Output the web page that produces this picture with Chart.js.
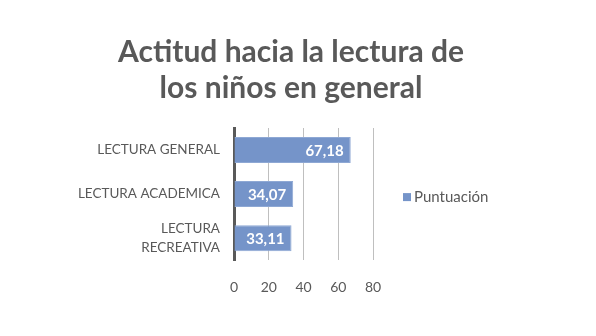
<!DOCTYPE html>
<html>
<head>
<meta charset="utf-8">
<script src="https://cdn.jsdelivr.net/npm/chart.js@4"></script>
<style>
    html, body { margin: 0; padding: 0; background: #fff; }
    #wrap { width: 596px; height: 336px; }
</style>
</head>
<body>
<div id="wrap"><canvas id="actitud"></canvas></div>
<script>
const categorias = ['LECTURA GENERAL', 'LECTURA ACADEMICA', ['LECTURA', 'RECREATIVA']];
const puntuacion = [67.18, 34.07, 33.11];
const serie = 'Puntuación';
const ejeX = [0, 20, 40, 60, 80];

const gris = '#595959';
const fuente = 'Lato, "Open Sans", sans-serif';

// etiquetas de valor dentro del extremo de cada barra
const valoresBarra = {
    id: 'valoresBarra',
    afterDatasetsDraw(chart) {
        const ctx = chart.ctx;
        const meta = chart.getDatasetMeta(0);
        ctx.save();
        ctx.font = 'bold 15px ' + fuente;
        ctx.fillStyle = '#ffffff';
        ctx.textAlign = 'right';
        ctx.textBaseline = 'middle';
        meta.data.forEach((bar, i) => {
            let txt = puntuacion[i].toFixed(2).replace('.', ',');
            ctx.fillText(txt, bar.x - 7, bar.y + 1);
        });
        ctx.restore();
    }
};

// caja de leyenda a la derecha del area de datos (ocupa su propio hueco en el layout)
const leyenda = {
    id: 'leyenda',
    beforeInit(chart) {
        const caja = {
            position: 'right',
            weight: 1000,
            fullSize: false,
            options: {},
            top: 0, left: 0, right: 0, bottom: 0, width: 0, height: 0,
            isHorizontal() { return false; },
            update(maxWidth, maxHeight) {
                this.width = 209;
                this.height = maxHeight;
            },
            draw() {
                const ctx = chart.ctx;
                const ds = chart.data.datasets[0];
                const y = (this.top + this.bottom) / 2 + 3;
                const x = this.left + 30;
                ctx.save();
                ctx.fillStyle = ds.backgroundColor;
                ctx.fillRect(x, y - 4, 8, 8);
                ctx.font = '15px ' + fuente;
                ctx.fillStyle = gris;
                ctx.textAlign = 'left';
                ctx.textBaseline = 'middle';
                ctx.fillText(ds.label, x + 11, y);
                ctx.restore();
            }
        };
        Chart.layouts.addBox(chart, caja);
    }
};

const actitudChart = (id) => {
    const data = {
        labels: categorias,
        datasets: [{
            label: serie,
            data: puntuacion,
            backgroundColor: '#7594c9',
            borderColor: '#8ea8d4',
            borderWidth: 1,
            barPercentage: 0.59,
            categoryPercentage: 1
        }]
    };

    const config = {
        type: 'bar',
        data: data,
        plugins: [valoresBarra, leyenda],
        options: {
            indexAxis: 'y',
            maintainAspectRatio: false,
            animation: false,
            layout: { padding: { left: 0, right: 14, top: 0, bottom: 21 } },
            scales: {
                x: {
                    min: 0,
                    max: 80,
                    afterBuildTicks: (s) => { s.ticks = ejeX.map(v => ({ value: v })); },
                    grid: { color: '#bfbfbf', lineWidth: 1, drawTicks: false },
                    border: { display: false },
                    ticks: { color: gris, font: { size: 14, family: fuente }, padding: 19 }
                },
                y: {
                    afterFit: (s) => { s.width = 234; },
                    grid: { display: false, drawTicks: false },
                    border: { display: true, color: gris, width: 3 },
                    ticks: { color: gris, font: { size: 13.5, family: fuente, lineHeight: 1.4 }, padding: 14 }
                }
            },
            plugins: {
                title: {
                    display: true,
                    text: ['Actitud hacia la lectura de', 'los niños en general'],
                    color: gris,
                    font: { size: 30, weight: 'bold', family: fuente, lineHeight: 1.2 },
                    padding: { top: 34, bottom: 22 }
                },
                legend: { display: false },
                tooltip: { enabled: false }
            }
        }
    };

    let ctx = document.getElementById(id).getContext("2d");
    new Chart(ctx, config);
};

Promise.all([
    document.fonts.load('13px Lato'),
    document.fonts.load('bold 30px Lato')
]).then(() => actitudChart('actitud'), () => actitudChart('actitud'));
</script>
</body>
</html>
